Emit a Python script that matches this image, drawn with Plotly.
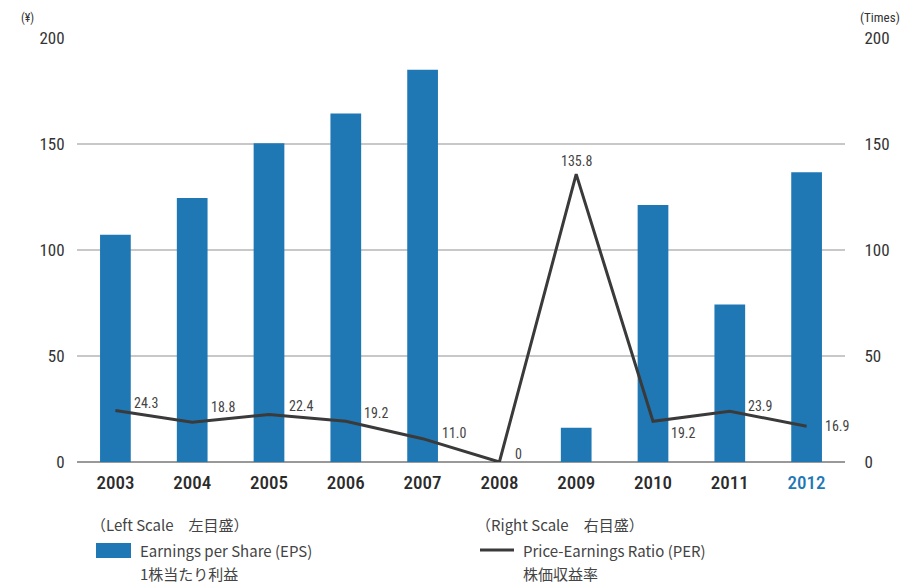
import plotly.graph_objects as go

# EPS (yen, left scale) and PER (times, right scale)
years = ["2003", "2004", "2005", "2006", "2007", "2008", "2009", "2010", "2011", "2012"]
eps = [107.2, 124.5, 150.3, 164.4, 185.0, 0, 16.2, 121.2, 74.3, 136.7]
per = [24.3, 18.8, 22.4, 19.2, 11.0, 0, 135.8, 19.2, 23.9, 16.9]
per_labels = ["24.3", "18.8", "22.4", "19.2", "11.0", "0", "135.8", "19.2", "23.9", "16.9"]
y_ticks = [0, 50, 100, 150, 200]

BLUE = "#1f78b4"
LINE = "#3a3a3a"
NUM_FONT = "Roboto Condensed, Roboto, sans-serif"
JP_FONT = "Noto Sans CJK JP"

# label placement per point: (xshift, yshift, xanchor)
label_pos = [(17, 7, "left"), (17, 15, "left"), (18, 9, "left"), (16, 8, "left"),
             (17, 6, "left"), (14, 8, "left"), (0, 13, "center"), (16, -12, "left"),
             (16, 5, "left"), (16, 0, "left")]

fig = go.Figure()
fig.add_trace(go.Bar(x=years, y=eps, marker=dict(color=BLUE, line=dict(width=0)),
                     yaxis="y", showlegend=False))
fig.add_trace(go.Scatter(x=years, y=per, mode="lines", line=dict(color=LINE, width=3),
                         yaxis="y2", showlegend=False))

# plot area is x 77..845, y 38..462 in page pixels
def pxx(v):
    return (v - 77) / (845 - 77)

def pxy(v):
    return (462 - v) / (462 - 38)

annotations = []
for i, (v, txt, (dx, dy, xa)) in enumerate(zip(per, per_labels, label_pos)):
    annotations.append(dict(x=i, y=v, xref="x", yref="y2", text=txt, showarrow=False,
                            xanchor=xa, yanchor="middle", xshift=dx, yshift=dy,
                            font=dict(family=NUM_FONT, size=14, color="#444")))

# axis unit captions
annotations.append(dict(x=pxx(19), y=pxy(18), xref="paper", yref="paper", text="(¥)",
                        showarrow=False, xanchor="left", yanchor="middle",
                        font=dict(family=NUM_FONT, size=12, color="#333")))
annotations.append(dict(x=pxx(858), y=pxy(18), xref="paper", yref="paper", text="(Times)",
                        showarrow=False, xanchor="left", yanchor="middle",
                        font=dict(family=NUM_FONT, size=13, color="#333")))

# legend block
leg_font = dict(family=JP_FONT, size=15, color="#444")
for x0, y0, txt in [(89, 524, "（Left Scale　左目盛）"), (138, 550, "Earnings per Share (EPS)"),
                    (138, 573, "1株当たり利益"), (474, 524, "（Right Scale　右目盛）"),
                    (521, 550, "Price-Earnings Ratio (PER)"), (521, 573, "株価収益率")]:
    annotations.append(dict(x=pxx(x0), y=pxy(y0), xref="paper", yref="paper", text=txt,
                            showarrow=False, xanchor="left", yanchor="middle", font=leg_font))

shapes = [
    dict(type="rect", xref="paper", yref="paper", x0=pxx(96), x1=pxx(131), y0=pxy(558), y1=pxy(543),
         fillcolor=BLUE, line=dict(width=0)),
    dict(type="line", xref="paper", yref="paper", x0=pxx(480), x1=pxx(514), y0=pxy(550), y1=pxy(550),
         line=dict(color=LINE, width=3)),
]

tick_text = [y if y != "2012" else '<span style="color:%s">2012</span>' % BLUE for y in years]

fig.update_layout(
    width=905, height=584,
    margin=dict(l=77, r=60, t=38, b=122),
    paper_bgcolor="white", plot_bgcolor="white",
    bargap=0.6,
    xaxis=dict(type="category", range=[-0.5, 9.5], tickvals=years, ticktext=tick_text,
               ticks="outside", ticklen=3, tickcolor="rgba(0,0,0,0)",
               tickfont=dict(family=NUM_FONT, size=19, color="#2b2b2b", weight=500),
               showgrid=False, showline=False),
    yaxis=dict(range=[0, 200], tickvals=y_ticks, showgrid=True, gridcolor="#c8c8c8", gridwidth=1.5,
               zeroline=True, zerolinecolor="#999", zerolinewidth=2,
               ticks="outside", ticklen=8, tickcolor="rgba(0,0,0,0)",
               tickfont=dict(family=NUM_FONT, size=17, color="#333")),
    yaxis2=dict(range=[0, 200], tickvals=y_ticks, overlaying="y", side="right", showgrid=False,
                zeroline=False, ticks="outside", ticklen=15, tickcolor="rgba(0,0,0,0)",
                tickfont=dict(family=NUM_FONT, size=17, color="#333")),
    annotations=annotations,
    shapes=shapes,
)

fig.write_html("out.html", config={"displayModeBar": False},
               post_script="document.body.style.margin='0';")
